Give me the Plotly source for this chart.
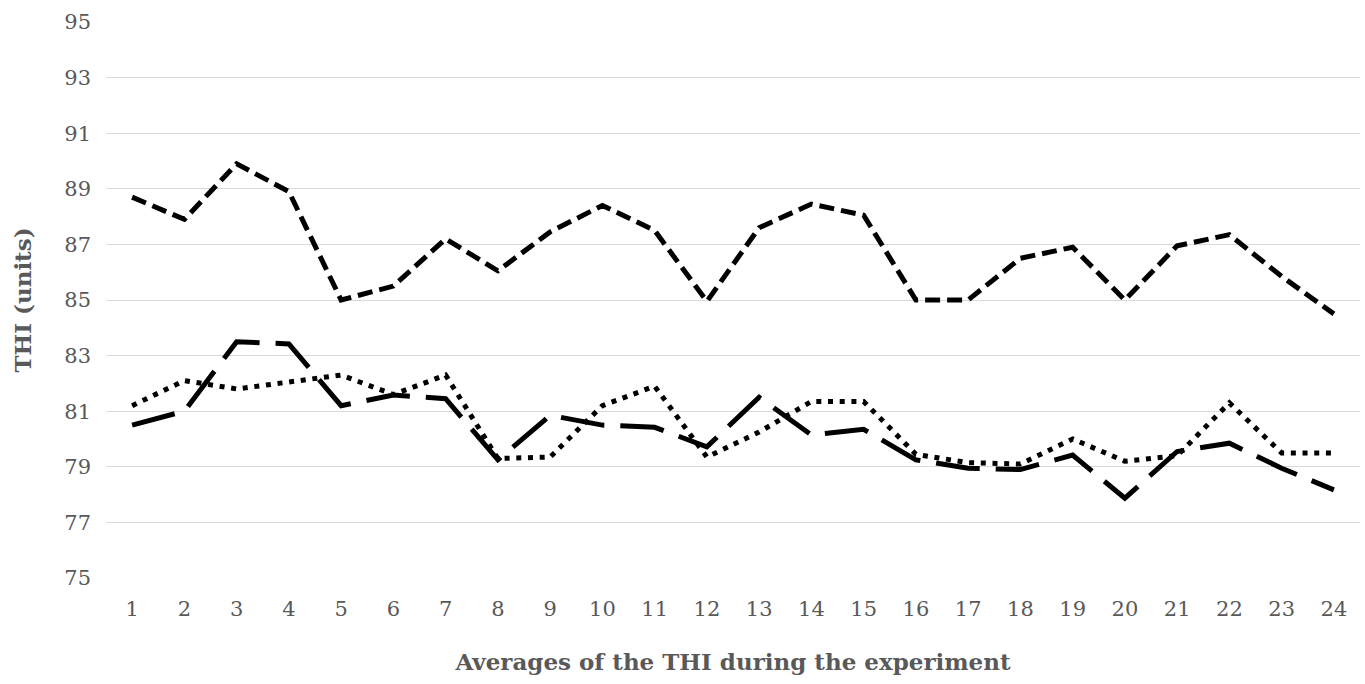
import plotly.graph_objects as go

periods = list(range(1, 25))
tick_labels = [str(p) for p in periods]

thi_short_dash = [88.7, 87.9, 89.9, 88.9, 85.0, 85.5, 87.2, 86.05, 87.45, 88.4, 87.5, 84.95,
                  87.6, 88.45, 88.05, 85.0, 85.0, 86.5, 86.9, 85.0, 86.95, 87.35, 85.85, 84.5]
thi_dotted = [81.2, 82.1, 81.8, 82.05, 82.3, 81.6, 82.3, 79.3, 79.35, 81.2, 81.9, 79.35,
              80.25, 81.35, 81.35, 79.45, 79.15, 79.1, 80.0, 79.2, 79.4, 81.3, 79.5, 79.5]
thi_long_dash = [80.5, 81.0, 83.5, 83.42, 81.2, 81.58, 81.45, 79.25, 80.85, 80.5, 80.42, 79.72,
                 81.5, 80.15, 80.35, 79.25, 78.95, 78.9, 79.42, 77.87, 79.55, 79.85, 78.95, 78.17]

fig = go.Figure()
fig.add_trace(go.Scatter(x=periods, y=thi_short_dash, mode="lines",
                         line=dict(color="black", width=5, dash="15px,7px"), showlegend=False))
fig.add_trace(go.Scatter(x=periods, y=thi_dotted, mode="lines",
                         line=dict(color="black", width=5, dash="5px,6.7px"), showlegend=False))
fig.add_trace(go.Scatter(x=periods, y=thi_long_dash, mode="lines",
                         line=dict(color="black", width=5, dash="44px,16px"), showlegend=False))

font_family = "DejaVu Serif"
fig.update_layout(
    width=1365, height=684,
    margin=dict(l=106, r=5, t=22, b=106),
    plot_bgcolor="white", paper_bgcolor="white",
    font=dict(family=font_family, color="#595959", size=21),
    xaxis=dict(range=[0.5, 24.5], tickvals=periods, ticktext=tick_labels,
               showgrid=False, zeroline=False, showline=False, ticks="",
               ticklabelstandoff=16,
               tickfont=dict(size=21, color="#595959"),
               title=dict(text="<b>Averages of the THI during the experiment</b>",
                          font=dict(size=23, color="#595959"), standoff=33)),
    yaxis=dict(range=[75, 95], dtick=2, tick0=75, showgrid=True, gridcolor="#d9d9d9",
               gridwidth=1, zeroline=False, showline=False, ticks="",
               ticklabelstandoff=14,
               tickfont=dict(size=21, color="#595959"),
               title=dict(text="<b>THI (units)</b>", font=dict(size=23, color="#595959"),
                          standoff=26)),
)

fig.write_html("out.html", config={"displayModeBar": False},
               post_script="document.body.style.margin='0';document.body.style.overflow='hidden';")
